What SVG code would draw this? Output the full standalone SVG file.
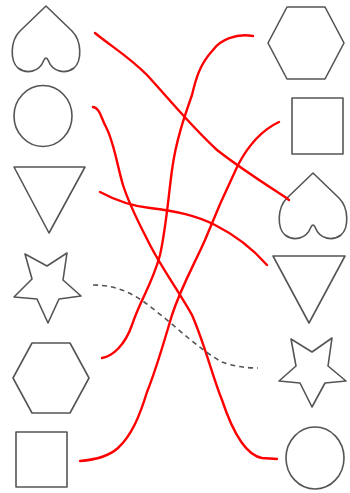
<svg xmlns="http://www.w3.org/2000/svg" width="350" height="493" viewBox="0 0 350 493">
<style>
.s{fill:none;stroke:#555;stroke-width:1.6;stroke-linejoin:round}
.r{fill:none;stroke:#ff0000;stroke-width:2.4;stroke-linecap:round;stroke-linejoin:round}
.d{fill:none;stroke:#555;stroke-width:1.6;stroke-dasharray:5 4}
</style>
<defs>
<path id="heart" d="M0,0 L-26,25 C-36,35 -36,55 -28,62 C-20,68 -7,67 -2,54 Q0,50 2,54 C7,67 20,68 28,62 C36,55 36,35 26,25 Z"/>
</defs>
<rect width="350" height="493" fill="#fff"/>
<g id="left-heart"><use href="#heart" class="s" x="46" y="6"/></g>
<g id="left-circle"><ellipse class="s" cx="43" cy="116" rx="29" ry="30.5"/></g>
<g id="left-triangle"><polygon class="s" points="14,167 85,167 49,233"/></g>
<g id="left-star"><polygon class="s" points="25,254 47,266 67,253 63,280 81,296 59,299 48,323 37,299 14,297 32,279"/></g>
<g id="left-hexagon"><polygon class="s" points="32,343 70,343 89,378 70,413 32,413 13,378"/></g>
<g id="left-square"><rect class="s" x="16" y="432" width="51" height="55"/></g>
<g id="right-hexagon"><polygon class="s" points="287,7 325,7 344,43 325,79 287,79 268,43"/></g>
<g id="right-square"><rect class="s" x="292" y="98" width="51" height="56"/></g>
<g id="right-heart"><use href="#heart" class="s" x="313" y="173"/></g>
<g id="right-triangle"><polygon class="s" points="273,256 345,256 309,323"/></g>
<g id="right-star"><polygon class="s" points="291,339 312,352 332,338 328,366 346,381 325,383 312,407 300,383 279,381 296,366"/></g>
<g id="right-circle"><ellipse class="s" cx="315" cy="458" rx="29" ry="31"/></g>
<g id="connectors">
<path class="r" d="M95,33 C112,47 128,56 147,75 C170,100 190,125 217,150 C240,168 262,182 285,197 L289,200"/>
<path class="r" d="M253,36 C236,33 220,40 213,50 C200,64 196,78 192,95 C185,115 176,140 172,170 C168,200 166,228 160,255 C152,285 140,300 132,325 C125,345 113,356 102,358"/>
<path class="r" d="M93,107 C100,108 101,118 106,127 C114,142 117,165 123,185 C130,207 140,225 150,245 C163,270 178,290 192,315 C205,345 212,375 222,400 C232,430 245,455 262,458 L277,459"/>
<path class="r" d="M279,122 C262,130 248,146 238,165 C226,190 215,215 205,240 C194,265 182,285 172,315 C163,345 156,370 147,392 C140,415 132,435 118,448 C108,457 92,460 80,461"/>
<path class="r" d="M100,192 C115,200 130,206 150,208 C175,211 195,215 215,225 C235,235 252,248 267,265"/>
<path class="d" d="M93,285 C120,285 138,296 157,312 C180,330 200,350 222,362 C232,366 245,368 258,368"/>
</g>
</svg>
